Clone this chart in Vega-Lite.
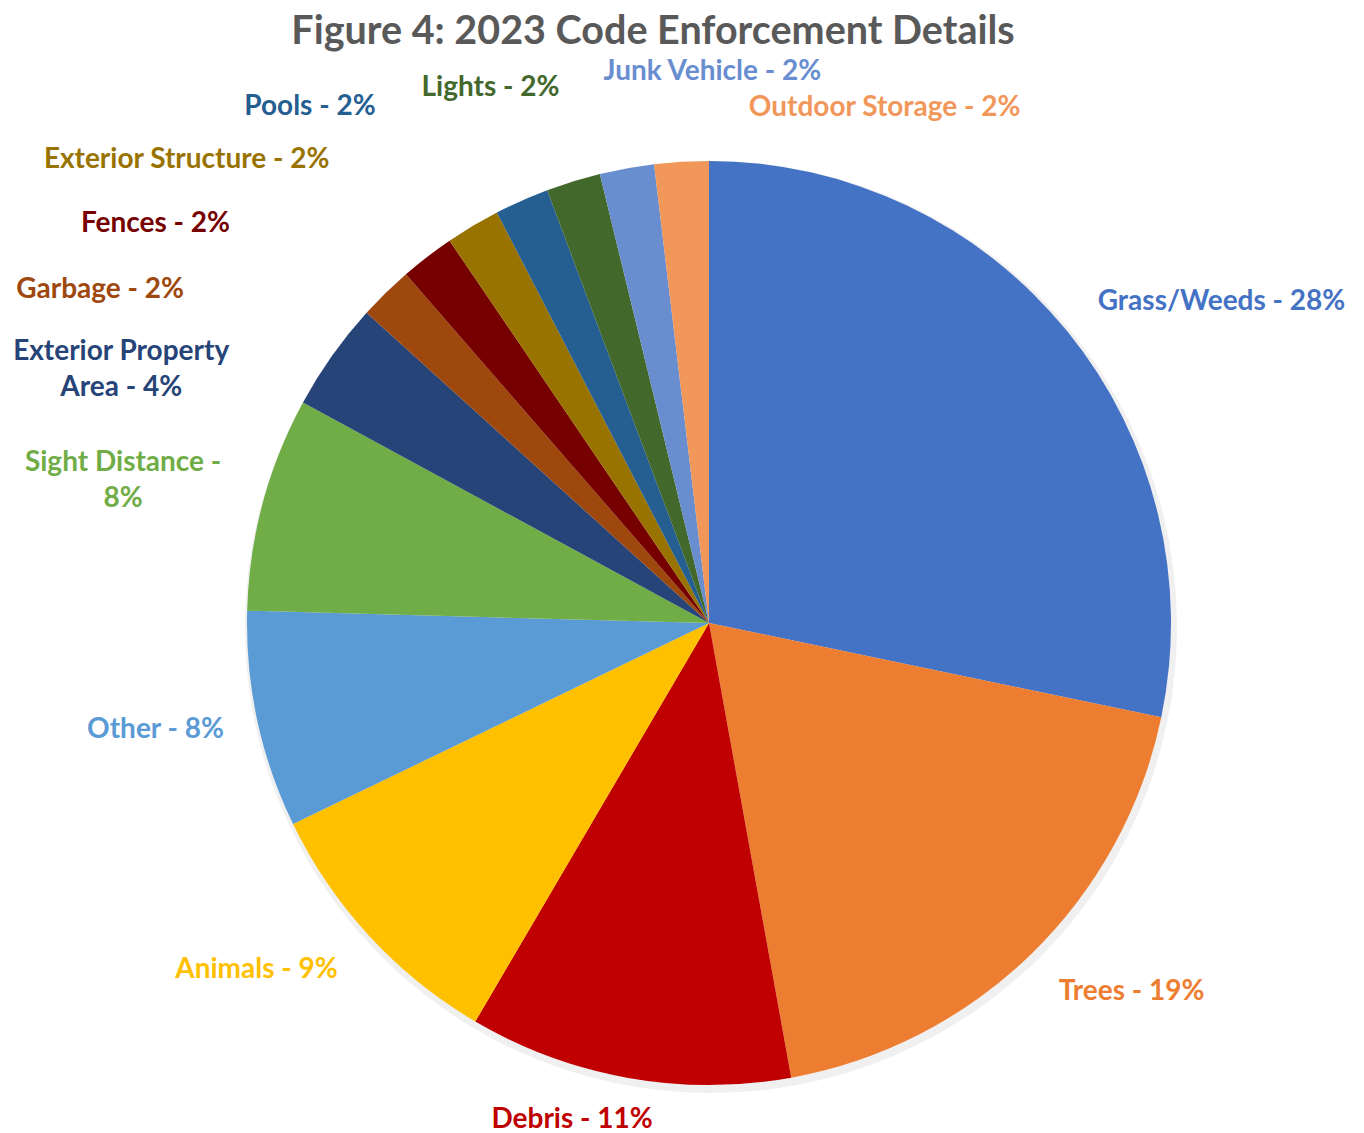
{
  "$schema": "https://vega.github.io/schema/vega-lite/v6.json",
  "width": 1310,
  "height": 926,
  "padding": {"left": 54, "top": 160, "right": 0, "bottom": 47},
  "autosize": {"type": "none"},
  "background": "white",
  "title": {
    "text": "Figure 4: 2023 Code Enforcement Details",
    "font": "Lato",
    "fontSize": 39.5,
    "fontWeight": "bold",
    "color": "#595959",
    "anchor": "middle",
    "frame": "group",
    "dx": -56,
    "offset": -57
  },
  "data": {
    "values": [
      {"order": 1, "category": "Grass/Weeds", "value": 28.3, "label": "Grass/Weeds - 28%"},
      {"order": 2, "category": "Trees", "value": 18.9, "label": "Trees - 19%"},
      {"order": 3, "category": "Debris", "value": 11.3, "label": "Debris - 11%"},
      {"order": 4, "category": "Animals", "value": 9.4, "label": "Animals - 9%"},
      {"order": 5, "category": "Other", "value": 7.6, "label": "Other - 8%"},
      {"order": 6, "category": "Sight Distance", "value": 7.5, "label": "Sight Distance -\n8%"},
      {"order": 7, "category": "Exterior Property Area", "value": 3.8, "label": "Exterior Property\nArea - 4%"},
      {"order": 8, "category": "Garbage", "value": 1.9, "label": "Garbage - 2%"},
      {"order": 9, "category": "Fences", "value": 1.9, "label": "Fences - 2%"},
      {"order": 10, "category": "Exterior Structure", "value": 1.9, "label": "Exterior Structure - 2%"},
      {"order": 11, "category": "Pools", "value": 1.9, "label": "Pools - 2%"},
      {"order": 12, "category": "Lights", "value": 1.9, "label": "Lights - 2%"},
      {"order": 13, "category": "Junk Vehicle", "value": 1.9, "label": "Junk Vehicle - 2%"},
      {"order": 14, "category": "Outdoor Storage", "value": 1.9, "label": "Outdoor Storage - 2%"}
    ]
  },
  "encoding": {
    "theta": {"field": "value", "type": "quantitative", "stack": true},
    "order": {"field": "order", "type": "quantitative"},
    "color": {
      "field": "category",
      "type": "nominal",
      "legend": null,
      "scale": {
        "domain": ["Grass/Weeds", "Trees", "Debris", "Animals", "Other", "Sight Distance", "Exterior Property Area", "Garbage", "Fences", "Exterior Structure", "Pools", "Lights", "Junk Vehicle", "Outdoor Storage"],
        "range": ["#4472C4", "#ED7D31", "#C00000", "#FFC000", "#5B9BD5", "#70AD47", "#264478", "#9E480E", "#760000", "#997300", "#255E91", "#43682B", "#698ED0", "#F1975A"]
      }
    }
  },
  "layer": [
    {"mark": {"type": "arc", "radius": 466, "stroke": null, "opacity": 0.12, "xOffset": 2, "yOffset": 4},
     "encoding": {"color": {"value": "#808080"}}},
    {"mark": {"type": "arc", "radius": 462, "stroke": null}},
    {"mark": {"type": "text", "radius": 560, "dx": 78, "dy": 32, "font": "Lato", "fontSize": 28, "fontWeight": "bold", "lineBreak": "\n", "lineHeight": 36, "align": "center", "baseline": "middle"},
     "encoding": {"text": {"condition": {"test": "datum.category === 'Grass/Weeds'", "field": "label", "type": "nominal"}, "value": ""}}},
    {"mark": {"type": "text", "radius": 560, "dx": 32, "dy": -32, "font": "Lato", "fontSize": 28, "fontWeight": "bold", "lineBreak": "\n", "lineHeight": 36, "align": "center", "baseline": "middle"},
     "encoding": {"text": {"condition": {"test": "datum.category === 'Trees'", "field": "label", "type": "nominal"}, "value": ""}}},
    {"mark": {"type": "text", "radius": 560, "dx": -39, "dy": -54, "font": "Lato", "fontSize": 28, "fontWeight": "bold", "lineBreak": "\n", "lineHeight": 36, "align": "center", "baseline": "middle"},
     "encoding": {"text": {"condition": {"test": "datum.category === 'Debris'", "field": "label", "type": "nominal"}, "value": ""}}},
    {"mark": {"type": "text", "radius": 560, "dx": -41, "dy": -33, "font": "Lato", "fontSize": 28, "fontWeight": "bold", "lineBreak": "\n", "lineHeight": 36, "align": "center", "baseline": "middle"},
     "encoding": {"text": {"condition": {"test": "datum.category === 'Animals'", "field": "label", "type": "nominal"}, "value": ""}}},
    {"mark": {"type": "text", "radius": 560, "dx": -6, "dy": -11, "font": "Lato", "fontSize": 28, "fontWeight": "bold", "lineBreak": "\n", "lineHeight": 36, "align": "center", "baseline": "middle"},
     "encoding": {"text": {"condition": {"test": "datum.category === 'Other'", "field": "label", "type": "nominal"}, "value": ""}}},
    {"mark": {"type": "text", "radius": 560, "dx": -45, "dy": -15, "font": "Lato", "fontSize": 28, "fontWeight": "bold", "lineBreak": "\n", "lineHeight": 36, "align": "center", "baseline": "middle"},
     "encoding": {"text": {"condition": {"test": "datum.category === 'Sight Distance'", "field": "label", "type": "nominal"}, "value": ""}}},
    {"mark": {"type": "text", "radius": 560, "dx": -131, "dy": 53, "font": "Lato", "fontSize": 28, "fontWeight": "bold", "lineBreak": "\n", "lineHeight": 36, "align": "center", "baseline": "middle"},
     "encoding": {"text": {"condition": {"test": "datum.category === 'Exterior Property Area'", "field": "label", "type": "nominal"}, "value": ""}}},
    {"mark": {"type": "text", "radius": 560, "dx": -217, "dy": 67, "font": "Lato", "fontSize": 28, "fontWeight": "bold", "lineBreak": "\n", "lineHeight": 36, "align": "center", "baseline": "middle"},
     "encoding": {"text": {"condition": {"test": "datum.category === 'Garbage'", "field": "label", "type": "nominal"}, "value": ""}}},
    {"mark": {"type": "text", "radius": 560, "dx": -212, "dy": 45, "font": "Lato", "fontSize": 28, "fontWeight": "bold", "lineBreak": "\n", "lineHeight": 36, "align": "center", "baseline": "middle"},
     "encoding": {"text": {"condition": {"test": "datum.category === 'Fences'", "field": "label", "type": "nominal"}, "value": ""}}},
    {"mark": {"type": "text", "radius": 560, "dx": -236, "dy": 18, "font": "Lato", "fontSize": 28, "fontWeight": "bold", "lineBreak": "\n", "lineHeight": 36, "align": "center", "baseline": "middle"},
     "encoding": {"text": {"condition": {"test": "datum.category === 'Exterior Structure'", "field": "label", "type": "nominal"}, "value": ""}}},
    {"mark": {"type": "text", "radius": 560, "dx": -172, "dy": -4, "font": "Lato", "fontSize": 28, "fontWeight": "bold", "lineBreak": "\n", "lineHeight": 36, "align": "center", "baseline": "middle"},
     "encoding": {"text": {"condition": {"test": "datum.category === 'Pools'", "field": "label", "type": "nominal"}, "value": ""}}},
    {"mark": {"type": "text", "radius": 560, "dx": -54, "dy": 0, "font": "Lato", "fontSize": 28, "fontWeight": "bold", "lineBreak": "\n", "lineHeight": 36, "align": "center", "baseline": "middle"},
     "encoding": {"text": {"condition": {"test": "datum.category === 'Lights'", "field": "label", "type": "nominal"}, "value": ""}}},
    {"mark": {"type": "text", "radius": 560, "dx": 103, "dy": 0, "font": "Lato", "fontSize": 28, "fontWeight": "bold", "lineBreak": "\n", "lineHeight": 36, "align": "center", "baseline": "middle"},
     "encoding": {"text": {"condition": {"test": "datum.category === 'Junk Vehicle'", "field": "label", "type": "nominal"}, "value": ""}}},
    {"mark": {"type": "text", "radius": 560, "dx": 209, "dy": 44, "font": "Lato", "fontSize": 28, "fontWeight": "bold", "lineBreak": "\n", "lineHeight": 36, "align": "center", "baseline": "middle"},
     "encoding": {"text": {"condition": {"test": "datum.category === 'Outdoor Storage'", "field": "label", "type": "nominal"}, "value": ""}}}
  ]
}
